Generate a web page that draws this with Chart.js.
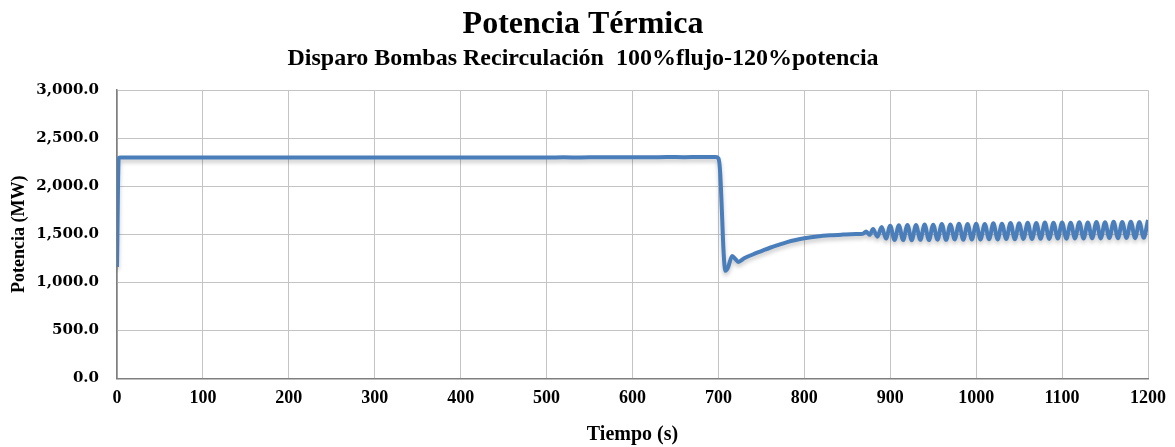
<!DOCTYPE html>
<html>
<head>
<meta charset="utf-8">
<title>Potencia Térmica</title>
<script src="https://cdn.jsdelivr.net/npm/chart.js@4/dist/chart.umd.min.js"></script>
<style>
    body{ margin:0; background:#fff; }
    #wrap{ width:1175px; height:447px; }
</style>
</head>
<body>
<div id="wrap"><canvas id="powerChart"></canvas></div>
<script>
"use strict";

//Tider (s)
const timeS = [
    0, 2, 4, 50, 100, 150, 200, 250, 300, 350, 400, 450, 500,
    520, 540, 560, 580, 600, 620, 640, 660, 680, 697,
    700, 702, 704, 706, 708, 711, 716, 720, 723, 730, 740, 750,
    760, 770, 780, 790, 800, 815, 830, 845, 860, 868, 872, 876, 880,
    885, 890, 895, 900, 905,
    910, 915, 920, 925, 930, 935, 940, 945, 950, 955, 960, 965, 970, 975,
    980, 985, 990, 995, 1000, 1005, 1010, 1015, 1020, 1025, 1030, 1035,
    1040, 1045, 1050, 1055, 1060, 1065, 1070, 1075, 1080, 1085, 1090, 1095,
    1100, 1105, 1110, 1115, 1120, 1125, 1130, 1135, 1140, 1145, 1150, 1155,
    1160, 1165, 1170, 1175, 1180, 1185, 1190, 1195, 1200
];

//Potencia (MW)
const powerMW = [
    1160, 2295, 2300, 2300, 2300, 2300, 2300, 2300, 2300, 2300, 2300, 2300, 2300,
    2301, 2300, 2302, 2301, 2303, 2302, 2304, 2303, 2304, 2304,
    2290, 2150, 1750, 1320, 1120, 1150, 1275, 1240, 1212, 1250, 1290, 1325,
    1360, 1390, 1418, 1440, 1458, 1478, 1490, 1497, 1502, 1505, 1530, 1495, 1555,
    1475, 1575, 1455, 1590, 1440,
    1595, 1440, 1598, 1438, 1596, 1442, 1602, 1440, 1600, 1444, 1606, 1442, 1603, 1446,
    1609, 1444, 1606, 1447, 1611, 1445, 1608, 1449, 1614, 1447, 1611, 1451,
    1617, 1449, 1614, 1452, 1619, 1450, 1617, 1454, 1622, 1452, 1619, 1456,
    1624, 1454, 1621, 1457, 1626, 1455, 1623, 1459, 1628, 1457, 1625, 1461,
    1630, 1459, 1627, 1462, 1631, 1460, 1629, 1463, 1650
];

//Axlar
const xMin = 0, xMax = 1200, xStep = 100;
const yMin = 0, yMax = 3000, yStep = 500;

const points = timeS.map((t, i) => ({ x: t, y: powerMW[i] }));

/**
 * Skugga under linjen (som i Excel)
 */
const lineShadow = {
    id: "lineShadow",
    beforeDatasetDraw(chart){
        const ctx = chart.ctx;
        ctx.save();
        ctx.shadowColor = "rgba(0,0,0,0.22)";
        ctx.shadowBlur = 4;
        ctx.shadowOffsetY = 3;
    },
    afterDatasetDraw(chart){
        chart.ctx.restore();
    }
};

const yTickFont = { family: "'DejaVu Serif', serif", size: 15, weight: "bold" };
const xTickFont = { family: "'Liberation Serif', serif", size: 18, weight: "bold" };
const titleFont = { family: "'Liberation Serif', serif", weight: "bold" };

new Chart(document.getElementById("powerChart"), {
    type: "line",
    data: {
        datasets: [{
            label: "Potencia",
            data: points,
            borderColor: "#4A7EBB",
            borderWidth: 4,
            pointRadius: 0,
            cubicInterpolationMode: "monotone",
            fill: false
        }]
    },
    options: {
        responsive: true,
        maintainAspectRatio: false,
        animation: false,
        layout: { padding: { left: 0, right: 9, top: 4, bottom: 0 } },
        plugins: {
            legend: { display: false },
            tooltip: { enabled: false },
            title: {
                display: true,
                text: "Potencia Térmica",
                color: "#000",
                font: Object.assign({ size: 32 }, titleFont),
                padding: { top: 2, bottom: 0 }
            },
            subtitle: {
                display: true,
                text: "Disparo Bombas Recirculación  100%flujo-120%potencia",
                color: "#000",
                font: Object.assign({ size: 24 }, titleFont),
                padding: { top: 0, bottom: 17 }
            }
        },
        scales: {
            x: {
                type: "linear",
                min: xMin,
                max: xMax,
                ticks: {
                    stepSize: xStep,
                    color: "#000",
                    font: xTickFont,
                    padding: 9,
                    maxRotation: 0,
                    callback: v => String(v)
                },
                grid: { color: "#c4c4c4", lineWidth: 1, drawTicks: false },
                border: { color: "#7f7f7f", width: 1.5 },
                title: {
                    display: true,
                    text: "Tiempo (s)",
                    color: "#000",
                    font: Object.assign({ size: 20 }, titleFont),
                    padding: { top: 5, bottom: 0 }
                }
            },
            y: {
                min: yMin,
                max: yMax,
                afterFit(scale){
                    scale.width = 117;
                },
                ticks: {
                    stepSize: yStep,
                    color: "#000",
                    font: yTickFont,
                    padding: 18,
                    callback: v => v.toLocaleString("en-US", { minimumFractionDigits: 1, maximumFractionDigits: 1 })
                },
                grid: { color: "#c4c4c4", lineWidth: 1, drawTicks: false },
                border: { color: "#7f7f7f", width: 1.5 },
                title: {
                    display: true,
                    text: "Potencia (MW)",
                    color: "#000",
                    font: Object.assign({ size: 18 }, titleFont),
                    padding: { top: 9, bottom: 0 }
                }
            }
        }
    },
    plugins: [lineShadow]
});
</script>
</body>
</html>
